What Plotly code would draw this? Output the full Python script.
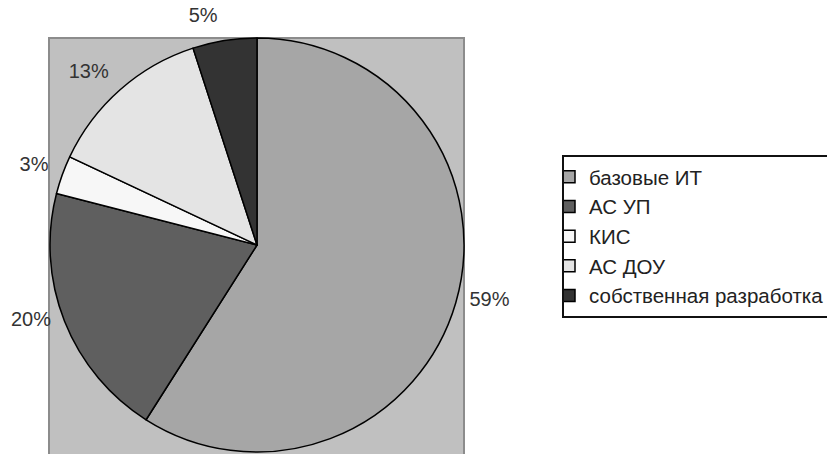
import plotly.graph_objects as go

categories = ["базовые ИТ", "АС УП", "КИС", "АС ДОУ", "собственная разработка"]
shares = [59, 20, 3, 13, 5]
slice_colors = ["#a6a6a6", "#5f5f5f", "#f7f7f7", "#e4e4e4", "#333333"]

W, H = 827, 454
# pie bounding box (pixels)
cx, cy, r = 257, 245, 207
label_top = cy - r - 15  # labels sit a little farther out than plotly's default

pie_dom = dict(x=[(cx - r) / W, (cx + r) / W],
               y=[(H - (cy + r)) / H, (H - (cy - r)) / H])
lab_half = (H - label_top) / 2
lab_dom = dict(x=[(cx - lab_half) / W, (cx + lab_half) / W],
               y=[0, (H - label_top) / H])
font_family = "Liberation Sans, Arial, sans-serif"

fig = go.Figure()
fig.add_trace(go.Pie(
    labels=categories,
    values=shares,
    sort=False,
    direction="clockwise",
    rotation=0,
    marker=dict(colors=slice_colors, line=dict(color="#000000", width=1.5)),
    textinfo="none",
    domain=pie_dom,
    hoverinfo="label+percent",
))
# transparent companion pie, only used to place the percentage labels
fig.add_trace(go.Pie(
    labels=categories,
    values=shares,
    sort=False,
    direction="clockwise",
    rotation=0,
    marker=dict(colors=["rgba(0,0,0,0)"] * len(categories), line=dict(width=0)),
    texttemplate="%{percent:.0%}",
    textposition="outside",
    outsidetextfont=dict(family=font_family, size=20, color="#333333"),
    domain=lab_dom,
    showlegend=False,
    hoverinfo="skip",
))

fig.add_shape(type="rect", xref="paper", yref="paper",
              x0=pie_dom["x"][0] - 1 / W, x1=pie_dom["x"][1], y0=-0.02, y1=pie_dom["y"][1],
              fillcolor="#c0c0c0", line=dict(color="#8c8c8c", width=2), layer="below")

fig.update_layout(
    width=W, height=H,
    margin=dict(l=0, r=0, t=0, b=0, autoexpand=False),
    paper_bgcolor="#ffffff",
    plot_bgcolor="#ffffff",
    showlegend=True,
    legend=dict(
        x=562 / W, xanchor="left",
        y=1 - 155 / H, yanchor="top",
        bordercolor="#111111", borderwidth=2,
        bgcolor="#ffffff",
        font=dict(family=font_family, size=20.5, color="#222222"),
        indentation=-15,
        itemwidth=30,
    ),
)

fig.write_html("out.html")
